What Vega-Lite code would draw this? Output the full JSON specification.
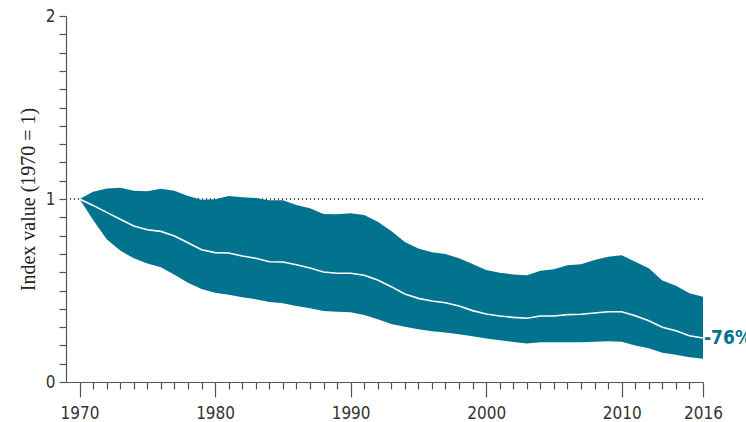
{
  "$schema": "https://vega.github.io/schema/vega-lite/v6.json",
  "width": 637,
  "height": 366,
  "autosize": {"type": "none"},
  "padding": {"left": 66, "top": 16, "right": 43, "bottom": 40},
  "background": "white",
  "config": {
    "view": {"stroke": null},
    "axis": {
      "domainColor": "#555555",
      "domainWidth": 1.2,
      "tickColor": "#555555",
      "tickWidth": 1.2,
      "grid": false,
      "labelFont": "Liberation Sans Narrow, DejaVu Sans Condensed, sans-serif",
      "labelFontSize": 17,
      "labelColor": "#333333"
    }
  },
  "data": {
    "values": [
      {"year": 1970, "lo": 1.0, "mid": 1.0, "hi": 1.0},
      {"year": 1971, "lo": 0.885, "mid": 0.965, "hi": 1.04},
      {"year": 1972, "lo": 0.78, "mid": 0.927, "hi": 1.058},
      {"year": 1973, "lo": 0.718, "mid": 0.889, "hi": 1.062},
      {"year": 1974, "lo": 0.676, "mid": 0.852, "hi": 1.045},
      {"year": 1975, "lo": 0.648, "mid": 0.832, "hi": 1.042},
      {"year": 1976, "lo": 0.627, "mid": 0.823, "hi": 1.056},
      {"year": 1977, "lo": 0.586, "mid": 0.798, "hi": 1.045},
      {"year": 1978, "lo": 0.543, "mid": 0.761, "hi": 1.016},
      {"year": 1979, "lo": 0.508, "mid": 0.723, "hi": 0.996},
      {"year": 1980, "lo": 0.488, "mid": 0.707, "hi": 0.998},
      {"year": 1981, "lo": 0.477, "mid": 0.705, "hi": 1.016},
      {"year": 1982, "lo": 0.463, "mid": 0.689, "hi": 1.009},
      {"year": 1983, "lo": 0.452, "mid": 0.676, "hi": 1.005},
      {"year": 1984, "lo": 0.437, "mid": 0.657, "hi": 0.993},
      {"year": 1985, "lo": 0.43, "mid": 0.656, "hi": 0.993},
      {"year": 1986, "lo": 0.415, "mid": 0.641, "hi": 0.967},
      {"year": 1987, "lo": 0.403, "mid": 0.623, "hi": 0.949},
      {"year": 1988, "lo": 0.388, "mid": 0.601, "hi": 0.918},
      {"year": 1989, "lo": 0.384, "mid": 0.594, "hi": 0.916},
      {"year": 1990, "lo": 0.381, "mid": 0.594, "hi": 0.922},
      {"year": 1991, "lo": 0.366, "mid": 0.583, "hi": 0.913},
      {"year": 1992, "lo": 0.343, "mid": 0.557, "hi": 0.876},
      {"year": 1993, "lo": 0.317, "mid": 0.521, "hi": 0.825},
      {"year": 1994, "lo": 0.302, "mid": 0.481, "hi": 0.765},
      {"year": 1995, "lo": 0.288, "mid": 0.457, "hi": 0.73},
      {"year": 1996, "lo": 0.278, "mid": 0.443, "hi": 0.709},
      {"year": 1997, "lo": 0.27, "mid": 0.433, "hi": 0.699},
      {"year": 1998, "lo": 0.261, "mid": 0.415, "hi": 0.676},
      {"year": 1999, "lo": 0.25, "mid": 0.39, "hi": 0.645},
      {"year": 2000, "lo": 0.238, "mid": 0.372, "hi": 0.612},
      {"year": 2001, "lo": 0.228, "mid": 0.361, "hi": 0.597},
      {"year": 2002, "lo": 0.219, "mid": 0.353, "hi": 0.588},
      {"year": 2003, "lo": 0.211, "mid": 0.348, "hi": 0.583},
      {"year": 2004, "lo": 0.217, "mid": 0.361, "hi": 0.608},
      {"year": 2005, "lo": 0.217, "mid": 0.361, "hi": 0.616},
      {"year": 2006, "lo": 0.217, "mid": 0.368, "hi": 0.638},
      {"year": 2007, "lo": 0.217, "mid": 0.37, "hi": 0.643},
      {"year": 2008, "lo": 0.22, "mid": 0.377, "hi": 0.667},
      {"year": 2009, "lo": 0.222, "mid": 0.384, "hi": 0.685},
      {"year": 2010, "lo": 0.22, "mid": 0.384, "hi": 0.692},
      {"year": 2011, "lo": 0.2, "mid": 0.362, "hi": 0.657},
      {"year": 2012, "lo": 0.184, "mid": 0.335, "hi": 0.621},
      {"year": 2013, "lo": 0.16, "mid": 0.299, "hi": 0.554},
      {"year": 2014, "lo": 0.149, "mid": 0.28, "hi": 0.526},
      {"year": 2015, "lo": 0.135, "mid": 0.253, "hi": 0.485},
      {"year": 2016, "lo": 0.127, "mid": 0.24, "hi": 0.466, "change": "-76%"}
    ]
  },
  "encoding": {
    "x": {
      "field": "year",
      "type": "quantitative",
      "scale": {"domain": [1969, 2016], "nice": false, "zero": false},
      "axis": {
        "title": null,
        "values": [1970, 1971, 1972, 1973, 1974, 1975, 1976, 1977, 1978, 1979, 1980, 1981, 1982, 1983, 1984, 1985, 1986, 1987, 1988, 1989, 1990, 1991, 1992, 1993, 1994, 1995, 1996, 1997, 1998, 1999, 2000, 2001, 2002, 2003, 2004, 2005, 2006, 2007, 2008, 2009, 2010, 2011, 2012, 2013, 2014, 2015, 2016],
        "tickCount": 47,
        "format": "d",
        "labelExpr": "datum.value % 10 === 0 || datum.value === 2016 ? datum.label : ''",
        "labelOverlap": false,
        "labelFlush": false,
        "labelBaseline": "top",
        "tickSize": {"condition": {"test": "datum.value % 10 === 0 || datum.value === 2016", "value": 15}, "value": 7},
        "labelPadding": 8
      }
    }
  },
  "layer": [
    {
      "mark": {"type": "rule", "stroke": "#555555", "strokeWidth": 1, "strokeDash": [1, 3]},
      "encoding": {
        "x": null,
        "y": {
          "datum": 1,
          "type": "quantitative",
          "scale": {"domain": [0, 2], "nice": false},
          "axis": {
            "title": "Index value (1970 = 1)",
            "titleFont": "Liberation Serif, DejaVu Serif, serif",
            "titleFontSize": 20,
            "titleFontWeight": "normal",
            "titleColor": "#222222",
            "titleAngle": -90,
            "titleX": -32,
            "titleY": 183,
            "titleAlign": "center",
            "titleBaseline": "alphabetic",
            "values": [0, 0.1, 0.2, 0.3, 0.4, 0.5, 0.6, 0.7, 0.8, 0.9, 1, 1.1, 1.2, 1.3, 1.4, 1.5, 1.6, 1.7, 1.8, 1.9, 2],
            "tickCount": 21,
            "labelExpr": "abs(datum.value - round(datum.value)) < 0.001 ? format(datum.value, 'd') : ''",
            "labelOverlap": false,
            "labelFlush": false,
            "tickSize": 7,
            "labelPadding": 4
          }
        }
      }
    },
    {
      "mark": {"type": "area", "color": "#02738F", "opacity": 1},
      "encoding": {
        "y": {"field": "lo", "type": "quantitative"},
        "y2": {"field": "hi"}
      }
    },
    {
      "mark": {"type": "line", "stroke": "white", "strokeWidth": 1.6},
      "encoding": {"y": {"field": "mid", "type": "quantitative"}}
    },
    {
      "transform": [{"filter": "datum.change != null"}],
      "mark": {
        "type": "text",
        "align": "left",
        "baseline": "middle",
        "dx": 1,
        "font": "Liberation Sans Narrow, DejaVu Sans Condensed, sans-serif",
        "fontSize": 19,
        "fontWeight": "bold",
        "color": "#02738F"
      },
      "encoding": {
        "y": {"field": "mid", "type": "quantitative"},
        "text": {"field": "change"}
      }
    }
  ]
}
